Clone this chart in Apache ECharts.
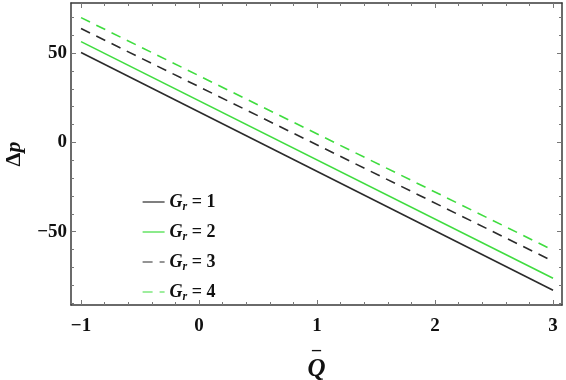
<!DOCTYPE html>
<html>
<head>
<meta charset="utf-8">
<script src="https://cdn.jsdelivr.net/npm/echarts@6/dist/echarts.min.js"></script>
<style>
  html, body { margin: 0; padding: 0; background: #fff; }
  #chart { width: 566px; height: 380px; }
</style>
</head>
<body>
<div id="chart"></div>
<script>
// Q values at the two ends of each line
const qValues = [-1, 3];
const grLevels = [1, 2, 3, 4];
const dp1 = [50.3, -82.7];
const dp2 = [56.4, -76.0];
const dp3 = [63.7, -66.5];
const dp4 = [69.8, -60.3];

const xLabels = [-1, 0, 1, 2, 3];
const xMinor = [-1, -0.8, -0.6, -0.4, -0.2, 0, 0.2, 0.4, 0.6, 0.8, 1, 1.2, 1.4, 1.6, 1.8, 2, 2.2, 2.4, 2.6, 2.8, 3];
const yLabels = [-50, 0, 50];
const yMinor = [-90, -80, -70, -60, -50, -40, -30, -20, -10, 0, 10, 20, 30, 40, 50, 60, 70];

const chart = echarts.init(document.getElementById("chart"));

const serif = "Liberation Serif";
const axisColor = "#3a3a3a";
const black = "#2b2b2b";
const green = "#3fdc3f";

const xMin = -1.085, xMax = 3.076;
const yMin = -91, yMax = 78;

function xAxisDef(pos, show, custom, len) {
  return {
    type: "value", position: pos, min: xMin, max: xMax,
    axisLine: { show: show, onZero: false, lineStyle: { color: axisColor, width: 1.5 } },
    axisTick: { show: true, inside: true, length: len, customValues: custom,
                lineStyle: { color: "#777", width: 1 } },
    axisLabel: { show: false },
    splitLine: { show: false }
  };
}
function yAxisDef(pos, show, custom, len) {
  return {
    type: "value", position: pos, min: yMin, max: yMax,
    axisLine: { show: show, onZero: false, lineStyle: { color: axisColor, width: 1.5 } },
    axisTick: { show: true, inside: true, length: len, customValues: custom,
                lineStyle: { color: "#777", width: 1 } },
    axisLabel: { show: false },
    splitLine: { show: false }
  };
}

const xMain = xAxisDef("bottom", true, xLabels, 5);
xMain.axisLabel = {
  show: true, customValues: xLabels, margin: 12,
  fontFamily: serif, fontWeight: "bold", fontSize: 19, color: "#111",
  formatter: v => (v < 0 ? "\u2212" + Math.abs(v) : String(v))
};
xMain.name = "{bar|\u2013}\n{q|Q}";
xMain.nameLocation = "middle";
xMain.nameGap = 34;
xMain.nameTextStyle = {
  rich: {
    bar: { fontFamily: serif, fontWeight: "bold", fontSize: 18, color: "#111", lineHeight: 14, align: "center" },
    q: { fontFamily: serif, fontStyle: "italic", fontWeight: "bold", fontSize: 25, color: "#111", lineHeight: 26, align: "center" }
  }
};

const yMain = yAxisDef("left", true, yLabels, 5);
yMain.axisLabel = {
  show: true, customValues: yLabels, margin: 4,
  fontFamily: serif, fontWeight: "bold", fontSize: 19, color: "#111",
  formatter: v => (v < 0 ? "\u2212" + Math.abs(v) : String(v))
};
yMain.name = "{d|\u0394}{p|p}";
yMain.nameLocation = "middle";
yMain.nameGap = 46;
yMain.nameRotate = 90;
yMain.nameTextStyle = {
  rich: {
    d: { fontFamily: serif, fontWeight: "bold", fontSize: 22, color: "#111" },
    p: { fontFamily: serif, fontWeight: "bold", fontStyle: "italic", fontSize: 22, color: "#111" }
  }
};

function lineSeries(name, data, color, dashed) {
  return {
    name: name, type: "line", xAxisIndex: 0, yAxisIndex: 0,
    data: qValues.map((q, i) => [q, data[i]]),
    symbol: "none", silent: true,
    lineStyle: { color: color, width: 1.6, type: dashed ? [10, 7] : "solid" },
    itemStyle: { color: color }
  };
}

const names = grLevels.map(g => "Gr = " + g);

chart.setOption({
  backgroundColor: "#fff",
  animation: false,
  grid: { left: 71, right: 4, top: 3, bottom: 75, outerBoundsMode: "none" },
  legend: {
    orient: "vertical", left: 137, top: 188,
    itemWidth: 22, itemHeight: 14, itemGap: 10,
    data: names,
    itemStyle: { opacity: 0 },
    lineStyle: { width: 1.2, inactiveWidth: 1.2 },
    formatter: n => "{g|G}{r|r}{t| = " + n.split("= ")[1] + "}",
    textStyle: {
      rich: {
        g: { fontFamily: serif, fontStyle: "italic", fontWeight: "bold", fontSize: 18, lineHeight: 22, color: "#111" },
        r: { fontFamily: serif, fontStyle: "italic", fontWeight: "bold", fontSize: 12, lineHeight: 22, color: "#111", verticalAlign: "bottom" },
        t: { fontFamily: serif, fontWeight: "bold", fontSize: 18, lineHeight: 22, color: "#111" }
      }
    }
  },
  xAxis: [
    xMain,
    xAxisDef("bottom", false, xMinor, 3),
    xAxisDef("top", true, xLabels, 5),
    xAxisDef("top", false, xMinor, 3)
  ],
  yAxis: [
    yMain,
    yAxisDef("left", false, yMinor, 3),
    yAxisDef("right", true, yLabels, 5),
    yAxisDef("right", false, yMinor, 3)
  ],
  series: [
    lineSeries(names[0], dp1, black, false),
    lineSeries(names[1], dp2, green, false),
    lineSeries(names[2], dp3, black, true),
    lineSeries(names[3], dp4, green, true)
  ]
});
</script>
</body>
</html>
